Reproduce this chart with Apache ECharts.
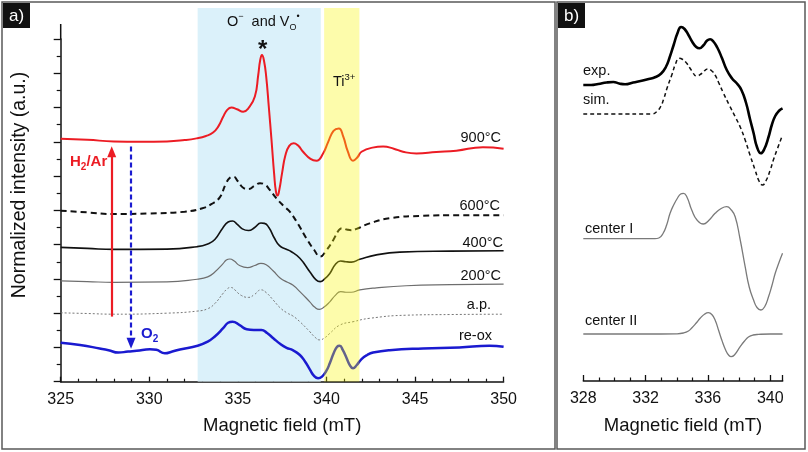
<!DOCTYPE html>
<html><head><meta charset="utf-8">
<script src="https://cdn.jsdelivr.net/npm/echarts@6/dist/echarts.min.js"></script>
<style>html,body{margin:0;padding:0;background:#fff}#c{width:808px;height:452px}</style>
</head><body><div id="c"></div>
<script>
const FONT = 'Liberation Sans, Arial, sans-serif';

// ---- Panel a: EPR spectra (x = magnetic field mT, y = offset normalized intensity) ----
const s900 = [[325,7.09],[326.5,7.06],[328,7.01],[329.5,7.0],[331,7.01],[332,7.05],[332.67,7.10],[333.2,7.17],[333.6,7.27],[333.9,7.45],[334.17,7.73],[334.4,7.93],[334.64,8.0],[334.95,7.95],[335.3,7.88],[335.6,7.98],[335.96,8.32],[336.15,8.95],[336.26,9.38],[336.36,9.53],[336.47,9.38],[336.6,8.9],[336.75,8.0],[336.9,7.05],[337.05,6.05],[337.15,5.55],[337.24,5.43],[337.34,5.6],[337.5,6.1],[337.68,6.6],[337.9,6.88],[338.15,6.96],[338.4,6.89],[338.68,6.71],[339.1,6.5],[339.44,6.45],[339.81,6.66],[340.1,7.0],[340.4,7.32],[340.7,7.39],[340.95,7.15],[341.2,6.73],[341.5,6.45],[341.75,6.55],[341.98,6.71],[342.6,6.83],[343.2,6.86],[343.8,6.8],[344.32,6.71],[345.08,6.66],[346.2,6.7],[347.33,6.74],[348.83,6.84],[350,6.80]];
const s600 = [[325,4.99],[326.5,4.94],[328,4.89],[330,4.91],[332,4.96],[333,5.06],[333.5,5.18],[333.98,5.38],[334.3,5.75],[334.55,5.95],[334.75,5.98],[335.0,5.85],[335.3,5.66],[335.6,5.62],[335.95,5.72],[336.25,5.79],[336.5,5.76],[336.8,5.6],[337.18,5.35],[337.6,5.12],[337.93,4.96],[338.4,4.6],[338.87,4.18],[339.3,3.85],[339.65,3.65],[339.95,3.8],[340.38,4.13],[340.7,4.42],[340.9,4.48],[341.15,4.44],[341.4,4.42],[341.7,4.46],[342.44,4.62],[343.57,4.77],[345.45,4.84],[347.5,4.86],[350,4.86]];
const s400 = [[325,3.92],[326.5,3.89],[328,3.86],[331,3.87],[332.7,3.94],[333.3,4.02],[333.7,4.15],[334.14,4.48],[334.45,4.66],[334.7,4.69],[334.95,4.6],[335.25,4.46],[335.6,4.41],[335.95,4.5],[336.3,4.63],[336.5,4.62],[336.75,4.5],[337.05,4.2],[337.35,3.97],[337.7,3.87],[338.0,3.8],[338.5,3.6],[339.06,3.21],[339.4,2.98],[339.65,2.92],[339.9,3.0],[340.19,3.16],[340.5,3.42],[340.8,3.52],[341.1,3.5],[341.41,3.49],[341.88,3.57],[342.82,3.70],[344.14,3.78],[347,3.81],[350,3.82]];
const s200 = [[325,2.94],[326.5,2.92],[328,2.90],[331,2.91],[332.7,2.99],[333.3,3.06],[333.7,3.2],[334.14,3.43],[334.35,3.55],[334.55,3.58],[334.8,3.52],[335.1,3.39],[335.55,3.33],[335.95,3.39],[336.3,3.45],[336.6,3.41],[337,3.23],[337.4,3.02],[337.8,2.9],[338.1,2.82],[338.5,2.63],[339.06,2.33],[339.35,2.17],[339.6,2.11],[339.85,2.17],[340.19,2.33],[340.5,2.52],[340.8,2.63],[341.1,2.61],[341.4,2.61],[341.88,2.68],[342.82,2.74],[344.5,2.80],[347,2.83],[350,2.85]];
const sAP = [[325,2.01],[326.5,1.99],[328,1.97],[331,2.0],[332.7,2.06],[333.3,2.13],[333.7,2.28],[334.17,2.58],[334.4,2.71],[334.6,2.75],[334.85,2.67],[335.15,2.53],[335.6,2.46],[335.95,2.55],[336.3,2.68],[336.6,2.6],[337,2.38],[337.4,2.15],[337.8,2.0],[338.1,1.92],[338.5,1.75],[339.06,1.46],[339.35,1.3],[339.62,1.22],[339.9,1.28],[340.19,1.41],[340.75,1.65],[341.5,1.75],[342.44,1.85],[344.5,1.94],[347,1.96],[350,1.97]];
const sReox = [[325,1.14],[326.09,1.07],[327.2,0.97],[327.7,0.92],[328.25,0.85],[328.8,0.88],[329.29,0.90],[330.04,0.95],[330.4,0.93],[330.88,0.83],[331.3,0.88],[331.73,0.94],[332.73,1.05],[333.3,1.17],[333.7,1.32],[334.17,1.56],[334.45,1.72],[334.7,1.75],[335.1,1.65],[335.5,1.53],[335.9,1.51],[336.33,1.51],[336.65,1.42],[337,1.27],[337.4,1.1],[337.75,0.99],[338.1,0.92],[338.5,0.78],[338.8,0.58],[339.06,0.36],[339.3,0.17],[339.53,0.10],[339.75,0.15],[340,0.32],[340.2,0.55],[340.4,0.82],[340.6,1.02],[340.75,1.05],[340.92,0.93],[341.13,0.7],[341.3,0.5],[341.5,0.39],[341.7,0.48],[341.98,0.66],[342.3,0.78],[342.63,0.85],[343.57,0.92],[345.45,0.97],[347.5,1.0],[349.2,1.05],[350,1.02]];
const labelsA = ['900°C','600°C','400°C','200°C','a.p.','re-ox'];
// highlighted field ranges (mT): O-/Vo and Ti3+
const bandBlue = [332.73, 339.68];
const bandYellow = [339.87, 341.86];
// arrows: [field, yStart, yEnd]
const arrowRed = [327.88, 1.90, 6.71];
const arrowBlue = [328.97, 6.86, 1.12];

// ---- Panel b ----
const bExp = [[328,29.6],[328.5,29.6],[328.96,29.7],[329.5,29.85],[329.93,29.9],[330.3,29.75],[330.68,29.67],[331.2,29.85],[331.75,30.03],[332.2,30.2],[332.6,30.37],[333.0,30.75],[333.3,31.4],[333.55,32.4],[333.8,33.6],[334.05,34.8],[334.28,35.4],[334.5,35.2],[334.75,34.6],[335.0,33.9],[335.25,33.4],[335.46,33.27],[335.7,33.55],[335.95,34.05],[336.14,34.17],[336.35,33.95],[336.6,33.35],[336.9,32.3],[337.21,31.1],[337.55,30.25],[337.85,29.77],[338.15,29.1],[338.45,27.8],[338.7,26.2],[338.93,24.8],[339.15,23.4],[339.4,22.77],[339.62,23.2],[339.89,24.4],[340.1,25.6],[340.32,26.5],[340.55,27.0],[340.79,27.27]];
const bSim = [[328,26.7],[330,26.7],[332.39,26.7],[332.71,26.93],[332.95,27.4],[333.14,28.1],[333.4,29.4],[333.68,30.6],[333.92,31.7],[334.15,32.27],[334.38,32.15],[334.64,31.77],[334.95,31.05],[335.28,30.5],[335.6,30.75],[335.99,31.2],[336.25,31.0],[336.46,30.6],[336.7,29.8],[337,28.77],[337.4,27.5],[337.75,26.43],[338.1,25.3],[338.39,24.1],[338.7,22.6],[339.03,21.1],[339.28,20.0],[339.5,19.6],[339.72,20.0],[340,21.1],[340.2,22.1],[340.43,23.1],[340.75,24.43]];
const bC1 = [[328,14.23],[330,14.23],[332.6,14.23],[332.85,14.3],[333.1,14.7],[333.35,15.6],[333.57,16.77],[333.8,17.6],[334.05,18.3],[334.25,18.7],[334.43,18.77],[334.65,18.4],[334.96,17.1],[335.3,16.1],[335.71,15.7],[336.05,16.05],[336.46,16.77],[336.85,17.25],[337.21,17.43],[337.5,17.1],[337.75,16.43],[338.05,14.3],[338.39,11.43],[338.65,9.4],[338.93,8.1],[339.15,7.35],[339.4,7.1],[339.65,7.45],[339.89,8.43],[340.1,9.5],[340.32,10.77],[340.55,11.8],[340.79,12.77]];
const bC2 = [[328,4.7],[332,4.7],[334.0,4.72],[334.43,4.8],[334.75,5.0],[334.96,5.3],[335.25,5.8],[335.5,6.27],[335.8,6.7],[336.03,6.83],[336.25,6.65],[336.46,6.1],[336.7,5.0],[336.89,4.1],[337.15,3.05],[337.35,2.55],[337.49,2.43],[337.7,2.6],[338.07,3.43],[338.35,4.0],[338.6,4.4],[338.9,4.6],[339.25,4.66],[340,4.7],[340.79,4.7]];
const labelsB = ['exp.','sim.','center I','center II'];
const ticksB = [328, 332, 336, 340];

const chart = echarts.init(document.getElementById('c'));
const SM = 0.5;

function ln(data, color, width, type, z) {
  return { type:'line', data, xAxisIndex:0, yAxisIndex:0, smooth:SM, symbol:'none', z: z||3,
    lineStyle:{color, width, type: type||'solid'}, animation:false, silent:true };
}
function lnB(data, color, width, type) {
  return { type:'line', data, xAxisIndex:2, yAxisIndex:2, smooth:SM, symbol:'none', z:3,
    lineStyle:{color, width, type: type||'solid'}, animation:false, silent:true };
}
function band(range, color, z) {
  return { type:'line', xAxisIndex:1, yAxisIndex:1, data:[[range[0],1],[range[1],1]], symbol:'none', z,
    lineStyle:{width:0, opacity:0}, areaStyle:{color, opacity:1, origin:'start'}, animation:false, silent:true };
}

const axisTxt = {color:'#111', fontSize:16, fontFamily:FONT};
const nameTxt = {color:'#111', fontSize:18.5, fontFamily:FONT};

const red900 = ln(s900, '#ec1c24', 2);
red900.markLine = {
  silent:true, animation:false, label:{show:false}, symbol:['none','triangle'], symbolSize:[9,11],
  data:[
    [{coord:[arrowRed[0],arrowRed[1]], lineStyle:{color:'#ec1c24', width:2.2, type:'solid'}, itemStyle:{color:'#ec1c24'}},
     {coord:[arrowRed[0],arrowRed[2]]}],
    [{coord:[arrowBlue[0],arrowBlue[1]], lineStyle:{color:'#1a1ad0', width:2.2, type:[5,3]}, itemStyle:{color:'#1a1ad0'}},
     {coord:[arrowBlue[0],arrowBlue[2]]}]
  ]
};

const lab = (text, x, y, extra) => Object.assign({type:'text', x, y, z:20, style:Object.assign({text, fill:'#111', fontSize:14.5, fontFamily:FONT, align:'right', verticalAlign:'middle'}, extra||{})});

const option = {
  backgroundColor:'#fff',
  grid:[
    {left:60.7, top:39, width:442.9, height:342.7},
    {left:60.7, top:8, width:442.9, height:373.7},
    {left:583.3, top:21, width:199.4, height:360}
  ],
  xAxis:[
    {gridIndex:0, type:'value', min:325, max:350, interval:5,
     axisLine:{lineStyle:{color:'#111', width:1.5}},
     axisTick:{inside:true, length:5, lineStyle:{color:'#111', width:1.3}},
     minorTick:{show:true, splitNumber:5, length:3, lineStyle:{color:'#111', width:1.2}},
     axisLabel:Object.assign({margin:10}, axisTxt), splitLine:{show:false},
     name:'Magnetic field (mT)', nameLocation:'middle', nameGap:35, nameTextStyle:nameTxt},
    {gridIndex:1, type:'value', min:325, max:350, show:false},
    {gridIndex:2, type:'value', min:328, max:340.8, interval:4,
     axisLine:{lineStyle:{color:'#111', width:1.5}},
     axisTick:{inside:true, length:6, lineStyle:{color:'#111', width:1.3}},
     minorTick:{show:true, splitNumber:4, length:3.5, lineStyle:{color:'#111', width:1.2}},
     axisLabel:Object.assign({margin:10, showMaxLabel:false, formatter:v => ticksB.indexOf(v) >= 0 ? String(v) : ''}, axisTxt),
     splitLine:{show:false},
     name:'Magnetic field (mT)', nameLocation:'middle', nameGap:35, nameTextStyle:nameTxt}
  ],
  yAxis:[
    {gridIndex:0, type:'value', min:0, max:10, interval:1,
     axisLine:{show:true, lineStyle:{color:'#111', width:1.5}},
     axisTick:{show:true, inside:false, length:7, lineStyle:{color:'#111', width:1.3}},
     minorTick:{show:true, splitNumber:2, length:4, lineStyle:{color:'#111', width:1.2}},
     axisLabel:{show:false}, splitLine:{show:false}},
    {gridIndex:1, type:'value', min:0, max:1, show:false},
    {gridIndex:2, type:'value', min:0, max:36, show:false}
  ],
  series:[
    band(bandBlue, '#dbf1fa', 1),
    band(bandYellow, 'rgba(250,246,0,0.33)', 10),
    red900,
    ln(s600, '#111', 2, [6,4]),
    ln(s400, '#111', 1.6),
    ln(s200, '#6e6e6e', 1.2),
    ln(sAP, '#777', 1, [2,2]),
    ln(sReox, '#1a1ad0', 2.5),
    lnB(bExp, '#000', 2.6),
    lnB(bSim, '#111', 1.5, [4,3]),
    lnB(bC1, '#7a7a7a', 1.3),
    lnB(bC2, '#7a7a7a', 1.3)
  ],
  graphic:[
    {type:'rect', shape:{x:2, y:2, width:553, height:447}, style:{fill:'none', stroke:'#5a5a5a', lineWidth:1.5}, z:30},
    {type:'rect', shape:{x:557, y:2, width:248, height:447}, style:{fill:'none', stroke:'#5a5a5a', lineWidth:1.5}, z:30},
    {type:'rect', shape:{x:3, y:3, width:27, height:25}, style:{fill:'#111'}, z:31},
    {type:'text', x:16.5, y:16, z:32, style:{text:'a)', fill:'#fff', fontSize:17, fontFamily:FONT, align:'center', verticalAlign:'middle'}},
    {type:'rect', shape:{x:558, y:3, width:27, height:25}, style:{fill:'#111'}, z:31},
    {type:'text', x:571.5, y:16, z:32, style:{text:'b)', fill:'#fff', fontSize:17, fontFamily:FONT, align:'center', verticalAlign:'middle'}},
    {type:'line', shape:{x1:60.7, y1:24, x2:60.7, y2:39.5}, style:{stroke:'#111', lineWidth:1.5}, z:5},
    {type:'text', x:20, y:185, rotation:Math.PI/2, z:20, style:{text:'Normalized intensity (a.u.)', fill:'#111', fontSize:19.5, fontFamily:FONT, align:'center', verticalAlign:'middle'}},
    lab(labelsA[0], 501, 138),
    lab(labelsA[1], 500, 206),
    lab(labelsA[2], 503, 242.7),
    lab(labelsA[3], 501, 276),
    lab(labelsA[4], 491, 305),
    lab(labelsA[5], 492, 335.7),
    {type:'text', x:227, y:22, z:20, style:{text:'{n|O}{sp|−}{n|  and V}{sb|O}{sp|•}', fontFamily:FONT, align:'left', verticalAlign:'middle',
      rich:{n:{fontSize:14.5, fill:'#111', fontFamily:FONT, lineHeight:20, verticalAlign:'middle'},
            sp:{fontSize:9, fill:'#111', fontFamily:FONT, lineHeight:20, verticalAlign:'top'},
            sb:{fontSize:9, fill:'#111', fontFamily:FONT, lineHeight:20, verticalAlign:'bottom'}}}},
    {type:'text', x:262.7, y:50, z:20, style:{text:'*', fill:'#111', fontSize:24, fontWeight:'bold', fontFamily:FONT, align:'center', verticalAlign:'middle'}},
    {type:'text', x:333, y:82, z:20, style:{text:'{n|Ti}{sp|3+}', fontFamily:FONT, align:'left', verticalAlign:'middle',
      rich:{n:{fontSize:14.5, fill:'#111', fontFamily:FONT, lineHeight:20, verticalAlign:'middle'},
            sp:{fontSize:9.5, fill:'#111', fontFamily:FONT, lineHeight:20, verticalAlign:'top'}}}},
    {type:'text', x:70, y:162, z:20, style:{text:'{n|H}{sb|2}{n|/Ar}', fontFamily:FONT, align:'left', verticalAlign:'middle',
      rich:{n:{fontSize:15, fontWeight:'bold', fill:'#ec1c24', fontFamily:FONT, lineHeight:20, verticalAlign:'middle'},
            sb:{fontSize:10, fontWeight:'bold', fill:'#ec1c24', fontFamily:FONT, lineHeight:20, verticalAlign:'bottom'}}}},
    {type:'text', x:141, y:334, z:20, style:{text:'{n|O}{sb|2}', fontFamily:FONT, align:'left', verticalAlign:'middle',
      rich:{n:{fontSize:15, fontWeight:'bold', fill:'#1a1ad0', fontFamily:FONT, lineHeight:20, verticalAlign:'middle'},
            sb:{fontSize:10, fontWeight:'bold', fill:'#1a1ad0', fontFamily:FONT, lineHeight:20, verticalAlign:'bottom'}}}},
    lab(labelsB[0], 583, 71, {align:'left'}),
    lab(labelsB[1], 583, 100, {align:'left'}),
    lab(labelsB[2], 585, 229, {align:'left'}),
    lab(labelsB[3], 585, 321, {align:'left'})
  ]
};
chart.setOption(option);
</script>
</body></html>
